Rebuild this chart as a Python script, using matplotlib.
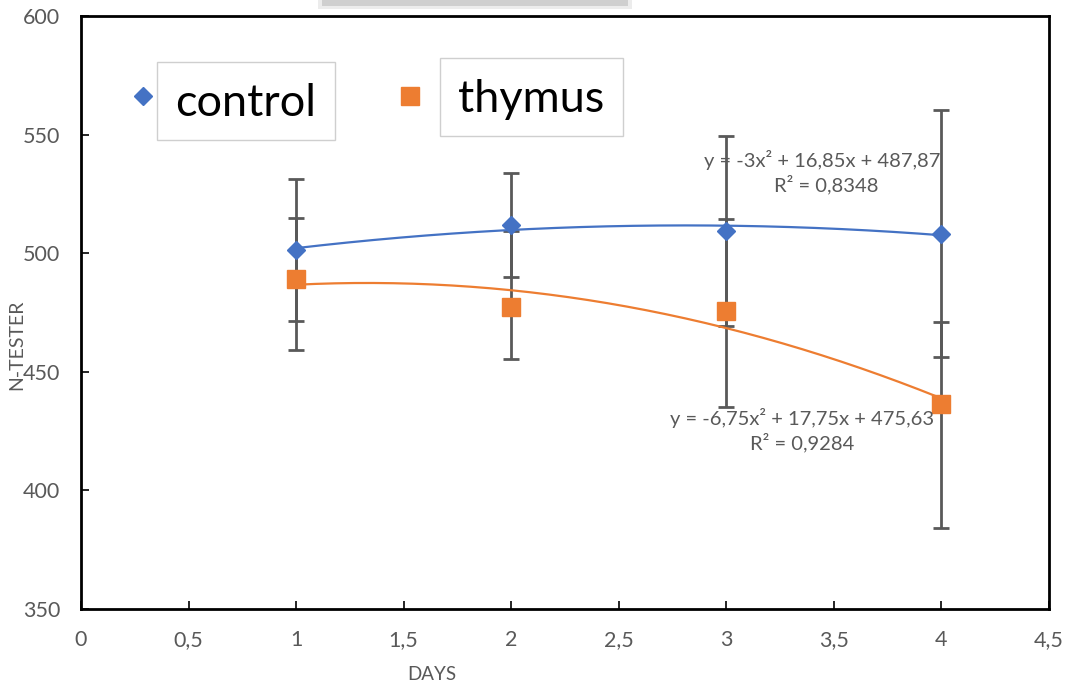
import numpy as np
import matplotlib.pyplot as plt
from matplotlib.patches import Rectangle
from matplotlib.lines import Line2D
import matplotlib.patheffects as pe

# data
days = [1, 2, 3, 4]
control = [501.4, 512.0, 509.4, 508.3]
thymus = [489.1, 477.2, 475.6, 436.4]
control_err_low = [30, 22, 40, 52]
control_err_high = [30, 22, 40, 52]
thymus_err_low = [29.8, 21.8, 40.3, 52.1]
thymus_err_high = [25.8, 32.0, 38.7, 34.7]

x_ticks = [0, 0.5, 1, 1.5, 2, 2.5, 3, 3.5, 4, 4.5]
x_tick_labels = ["0", "0,5", "1", "1,5", "2", "2,5", "3", "3,5", "4", "4,5"]
y_ticks = [350, 400, 450, 500, 550, 600]

eq_control = "y = -3x² + 16,85x + 487,87"
r2_control = "R² = 0,8348"
eq_thymus = "y = -6,75x² + 17,75x + 475,63"
r2_thymus = "R² = 0,9284"

BLUE = "#4472C4"
ORANGE = "#ED7D31"
GREY = "#595959"
TEXT_FONT = ["Lato", "DejaVu Sans"]

W, H = 1068, 686
fig = plt.figure(figsize=(W / 100, H / 100), dpi=100)
ax = fig.add_axes([81 / W, 1 - 609 / H, (1049 - 81) / W, (609 - 16) / H])


def px(x, y):
    """pixel position (from top-left) to figure fraction"""
    return x / W, 1 - y / H


# error bars
ax.errorbar(days, control, yerr=[control_err_low, control_err_high], fmt="none",
            ecolor=GREY, elinewidth=2, capsize=6, capthick=2, zorder=2)
ax.errorbar(days, thymus, yerr=[thymus_err_low, thymus_err_high], fmt="none",
            ecolor=GREY, elinewidth=2, capsize=6, capthick=2, zorder=2)

# polynomial trendlines (order 2), like the Excel ones
xs = np.linspace(1, 4, 200)
for vals, col in [(control, BLUE), (thymus, ORANGE)]:
    coef = np.polyfit(days, vals, 2)
    ax.plot(xs, np.polyval(coef, xs), color=col, lw=1.6, zorder=2.5)

# markers
ax.plot(days, control, ls="none", marker="D", ms=9, color=BLUE, zorder=3)
ax.plot(days, thymus, ls="none", marker="s", ms=12.5, color=ORANGE, zorder=3)

ax.set_xlim(0, 4.5)
ax.set_ylim(350, 600)
ax.set_xticks(x_ticks)
ax.set_xticklabels(x_tick_labels)
ax.set_yticks(y_ticks)
ax.tick_params(direction="in", length=6, width=1.2, color="black",
               labelcolor=GREY, labelsize=15.5)
ax.tick_params(axis="x", pad=15)
ax.tick_params(axis="y", pad=15)
for lab in ax.get_xticklabels() + ax.get_yticklabels():
    lab.set_family(TEXT_FONT)

for side, sp in ax.spines.items():
    sp.set_color("black")
    sp.set_linewidth(2)
    sp.set_path_effects([pe.SimplePatchShadow(offset=(2, -2), alpha=0.35), pe.Normal()])

# trendline equations
eq_style = dict(ha="center", va="center", fontsize=14.5, color=GREY, family=TEXT_FONT)
ax.text(3.447, 539.3, eq_control, **eq_style)
ax.text(3.465, 528.8, r2_control, **eq_style)
ax.text(3.353, 430.5, eq_thymus, **eq_style)
ax.text(3.353, 420.0, r2_thymus, **eq_style)

# axis titles
fig.text(*px(432, 675), "DAYS", ha="center", va="center", fontsize=13.5,
         color=GREY, family=TEXT_FONT)
fig.text(*px(17, 345), "N-TESTER", ha="center", va="center", fontsize=14,
         color=GREY, family=TEXT_FONT, rotation=90)

# legend built from separate boxes
legend_items = [
    ("control", "D", 9, BLUE, (143, 96), (157, 62, 335, 140)),
    ("thymus", "s", 12.5, ORANGE, (410, 96), (440, 58, 623, 136)),
]
for label, mk, ms, col, (mx, my), (x0, y0, x1, y1) in legend_items:
    fig.add_artist(Rectangle(px(x0, y1), (x1 - x0) / W, (y1 - y0) / H,
                             transform=fig.transFigure, facecolor="white",
                             edgecolor="#cfcfcf", lw=1, zorder=5))
    fig.add_artist(Line2D([mx / W], [1 - my / H], marker=mk, ms=ms, color=col,
                          ls="none", transform=fig.transFigure, zorder=6))
    fig.text(*px((x0 + x1) / 2, (y0 + y1) / 2 + 2), label, ha="center",
             va="center", fontsize=32.5, color="black", family=TEXT_FONT, zorder=6)

# shadow of the cut-off title box at the top
fig.add_artist(Rectangle(px(318, 9), 314 / W, 12 / H, transform=fig.transFigure,
                         facecolor="#ececec", edgecolor="none", zorder=4))
fig.add_artist(Rectangle(px(322, 6), 306 / W, 10 / H, transform=fig.transFigure,
                         facecolor="#cfcfcf", edgecolor="none", zorder=4))

fig.savefig("out.png", dpi=100)
